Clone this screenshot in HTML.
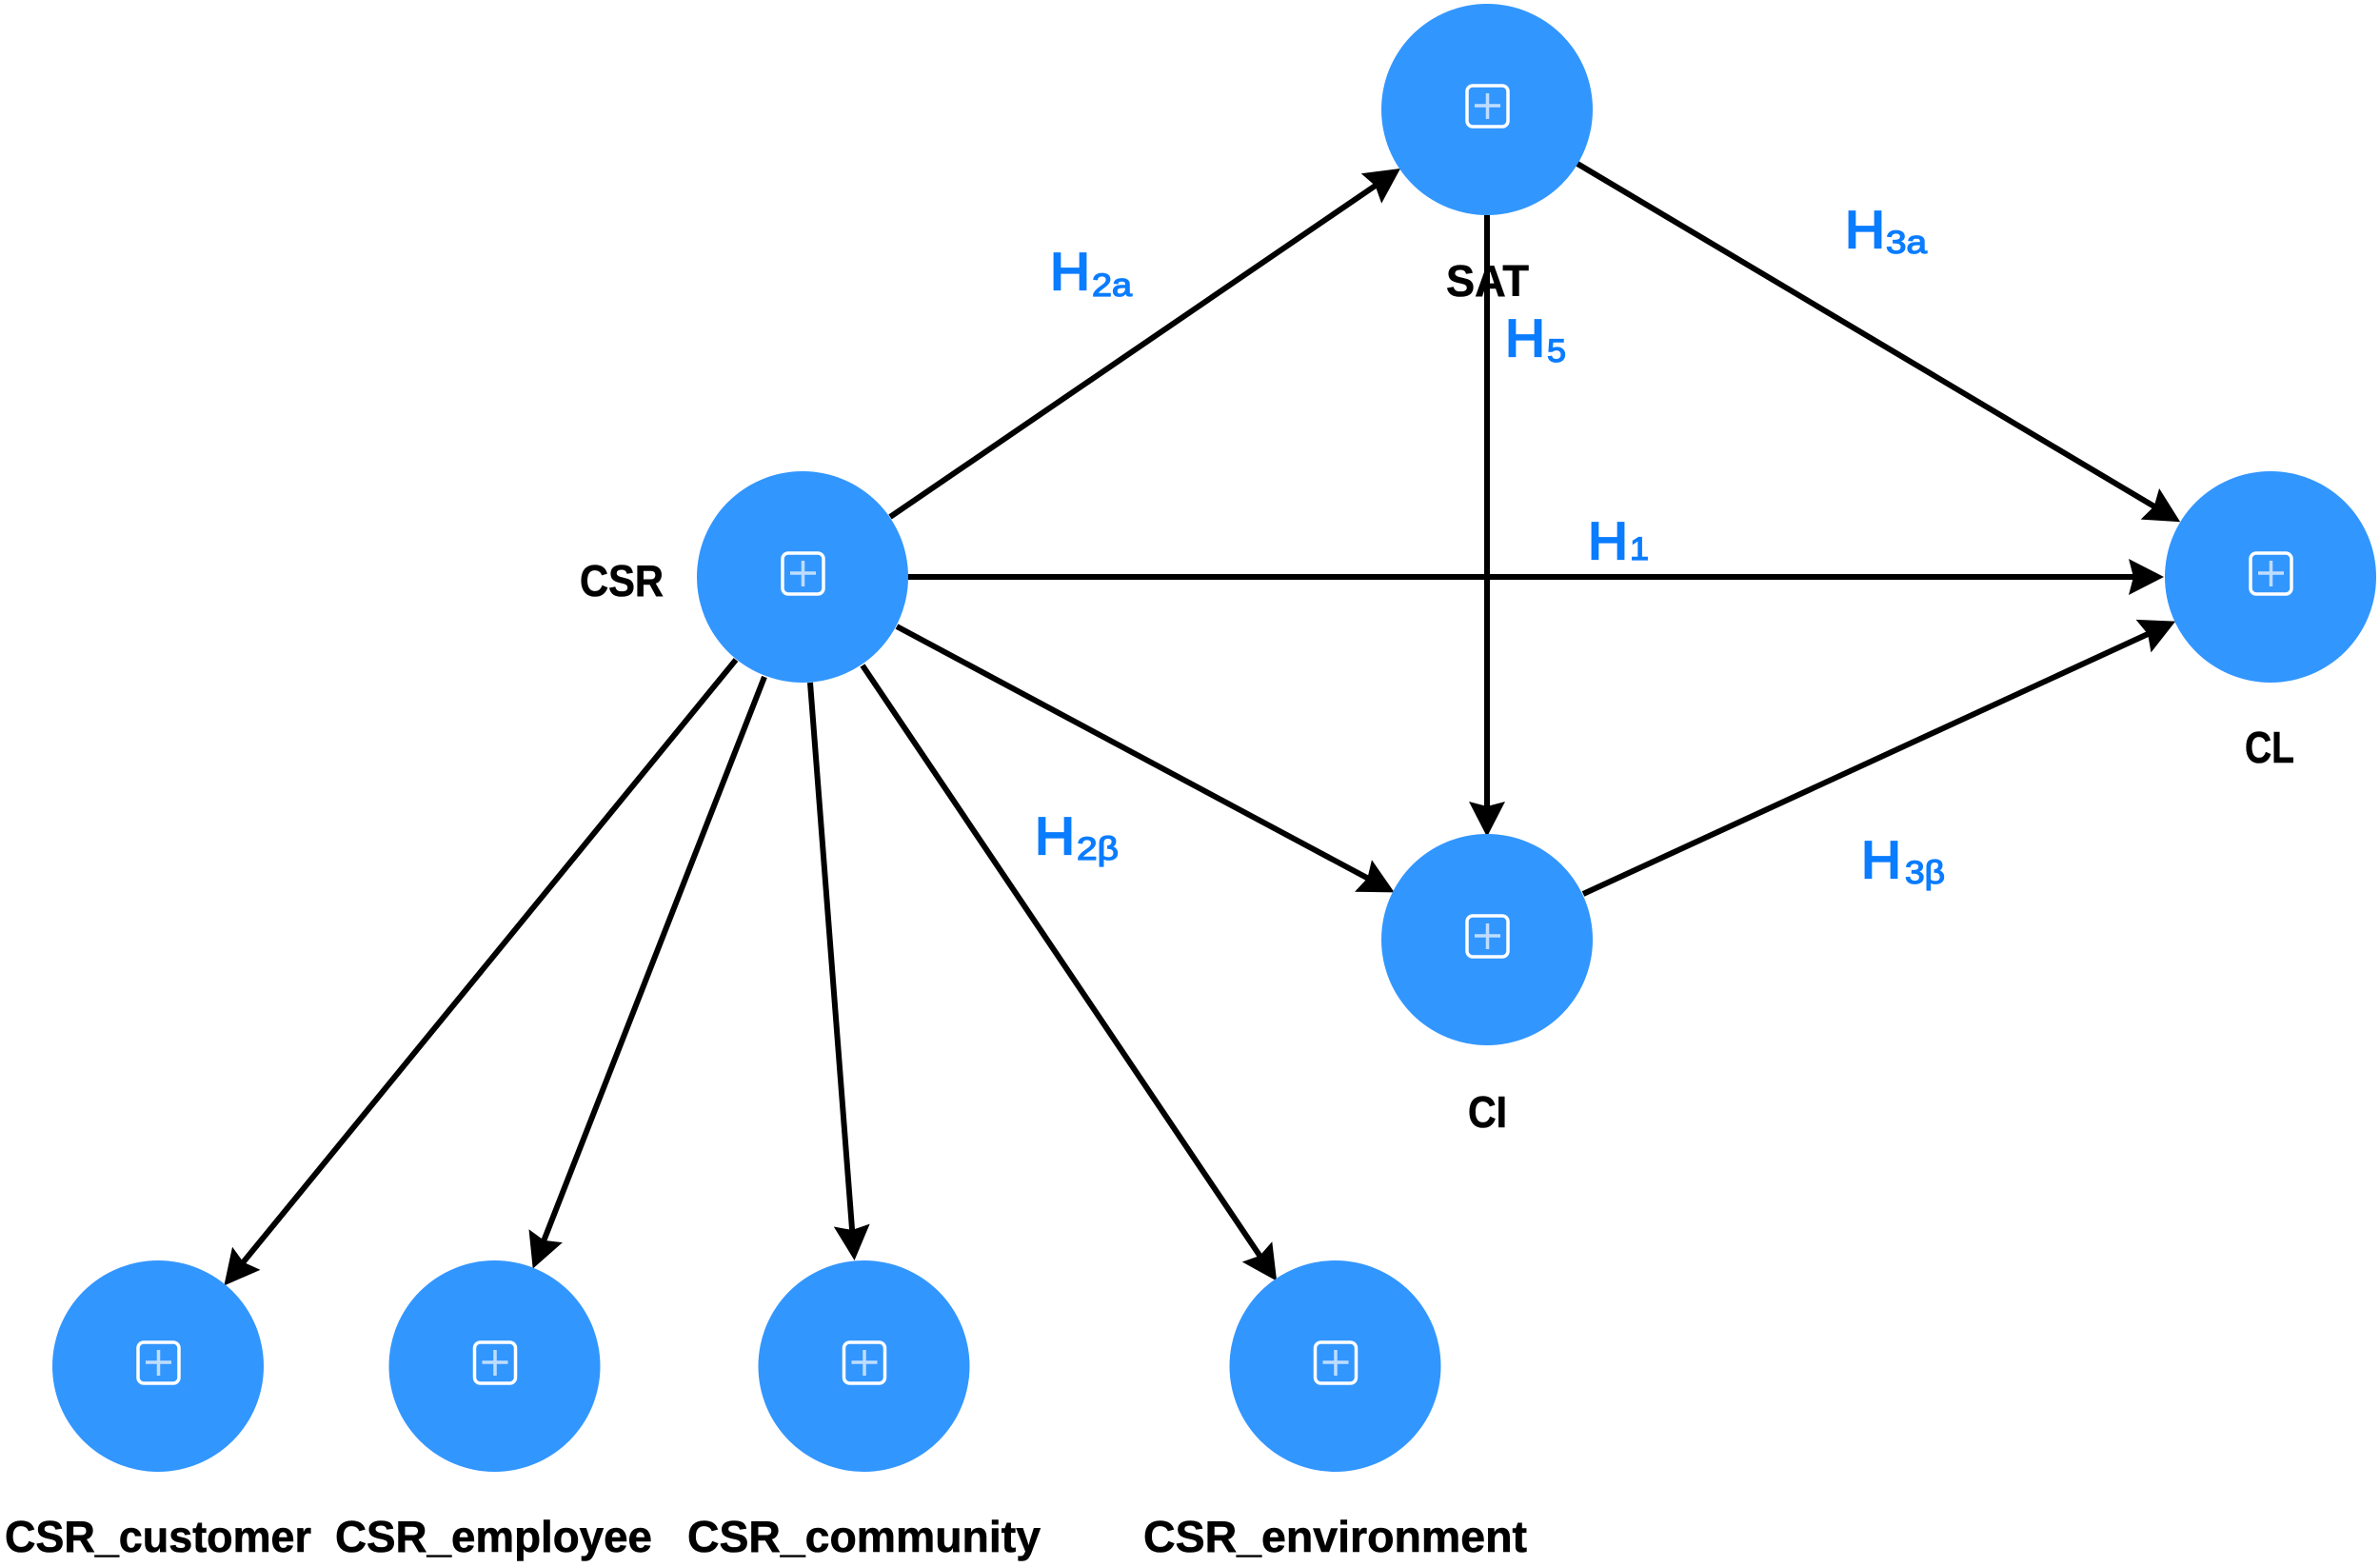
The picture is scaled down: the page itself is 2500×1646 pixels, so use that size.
<!DOCTYPE html>
<html><head><meta charset="utf-8"><style>
html,body{margin:0;padding:0;background:#fff;width:2500px;height:1646px;overflow:hidden}
svg{display:block}
.b{font-family:"Liberation Sans",sans-serif;font-weight:700;font-size:46px;fill:#000;stroke:#000;stroke-width:.6}
.h{font-family:"Liberation Sans",sans-serif;font-size:55px;fill:#0A7CFF;stroke:#0A7CFF;stroke-width:2.2}
.s{font-family:"Liberation Sans",sans-serif;font-size:34px;fill:#0A7CFF;stroke:#0A7CFF;stroke-width:1.3}
.l{stroke:#000;stroke-width:6;fill:none;marker-end:url(#a)}
</style></head><body>
<svg width="2500" height="1646" viewBox="0 0 2500 1646" xmlns="http://www.w3.org/2000/svg">
<defs>
<marker id="a" markerUnits="userSpaceOnUse" markerWidth="80" markerHeight="80" refX="0" refY="0" viewBox="-40 -40 80 80" orient="auto" overflow="visible">
<path d="M-17,-19 L20,0 L-17,19 L-12,0 Z" fill="#000"/>
</marker>
<g id="n">
<circle r="111" fill="#3296FF"/>
<rect x="-21" y="-25" width="43" height="43" rx="6" fill="none" stroke="#fff" stroke-width="3.5"/>
<path d="M-13,-4H14M0.5,-17V10" stroke="#BFDDFF" stroke-width="3.5" fill="none"/>
</g>
</defs>
<rect width="2500" height="1646" fill="#fff"/>
<line class="l" x1="935" y1="543" x2="1454.5" y2="188.3"/>
<line class="l" x1="1657" y1="172" x2="2273" y2="538"/>
<line class="l" x1="953" y1="606" x2="2253" y2="606"/>
<line class="l" x1="1663" y1="939" x2="2267" y2="661"/>
<line class="l" x1="1562" y1="226" x2="1562" y2="859"/>
<line class="l" x1="942" y1="658" x2="1447" y2="928"/>
<line class="l" x1="773" y1="693" x2="248" y2="1335"/>
<line class="l" x1="803" y1="711" x2="567" y2="1314"/>
<line class="l" x1="851" y1="717" x2="896" y2="1304"/>
<line class="l" x1="906" y1="699" x2="1330" y2="1329"/>
<use href="#n" x="1562" y="115"/>
<use href="#n" x="843" y="606"/>
<use href="#n" x="2385" y="606"/>
<use href="#n" x="1562" y="987"/>
<use href="#n" x="166" y="1435"/>
<use href="#n" x="519.5" y="1435"/>
<use href="#n" x="907.5" y="1435"/>
<use href="#n" x="1402.5" y="1435"/>
<text class="b" x="1519" y="311" textLength="87" lengthAdjust="spacingAndGlyphs">SAT</text>
<text class="b" x="609" y="626" textLength="88" lengthAdjust="spacingAndGlyphs">CSR</text>
<text class="b" x="2358" y="801" textLength="52" lengthAdjust="spacingAndGlyphs">CL</text>
<text class="b" x="1542" y="1184" textLength="41" lengthAdjust="spacingAndGlyphs">CI</text>
<text class="b" x="5" y="1630" textLength="322" lengthAdjust="spacingAndGlyphs">CSR_customer</text>
<text class="b" x="352" y="1630" textLength="333" lengthAdjust="spacingAndGlyphs">CSR_employee</text>
<text class="b" x="722" y="1630" textLength="371" lengthAdjust="spacingAndGlyphs">CSR_community</text>
<text class="b" x="1201" y="1630" textLength="403" lengthAdjust="spacingAndGlyphs">CSR_environment</text>
<text class="h" x="1103" y="304" textLength="42" lengthAdjust="spacingAndGlyphs">H</text><text class="s" x="1147" y="311" textLength="42" lengthAdjust="spacingAndGlyphs">2a</text>
<text class="h" x="1581" y="374" textLength="42" lengthAdjust="spacingAndGlyphs">H</text><text class="s" x="1625" y="380" textLength="20" lengthAdjust="spacingAndGlyphs">5</text>
<text class="h" x="1938" y="260" textLength="42" lengthAdjust="spacingAndGlyphs">H</text><text class="s" x="1981" y="266" textLength="43" lengthAdjust="spacingAndGlyphs">3a</text>
<text class="h" x="1668" y="587" textLength="42" lengthAdjust="spacingAndGlyphs">H</text><text class="s" x="1712" y="588" textLength="20" lengthAdjust="spacingAndGlyphs">1</text>
<text class="h" x="1087" y="897" textLength="42" lengthAdjust="spacingAndGlyphs">H</text><text class="s" x="1131" y="903" textLength="44" lengthAdjust="spacingAndGlyphs">2β</text>
<text class="h" x="1955" y="922" textLength="42" lengthAdjust="spacingAndGlyphs">H</text><text class="s" x="2001" y="928" textLength="42" lengthAdjust="spacingAndGlyphs">3β</text>
</svg>
</body></html>
